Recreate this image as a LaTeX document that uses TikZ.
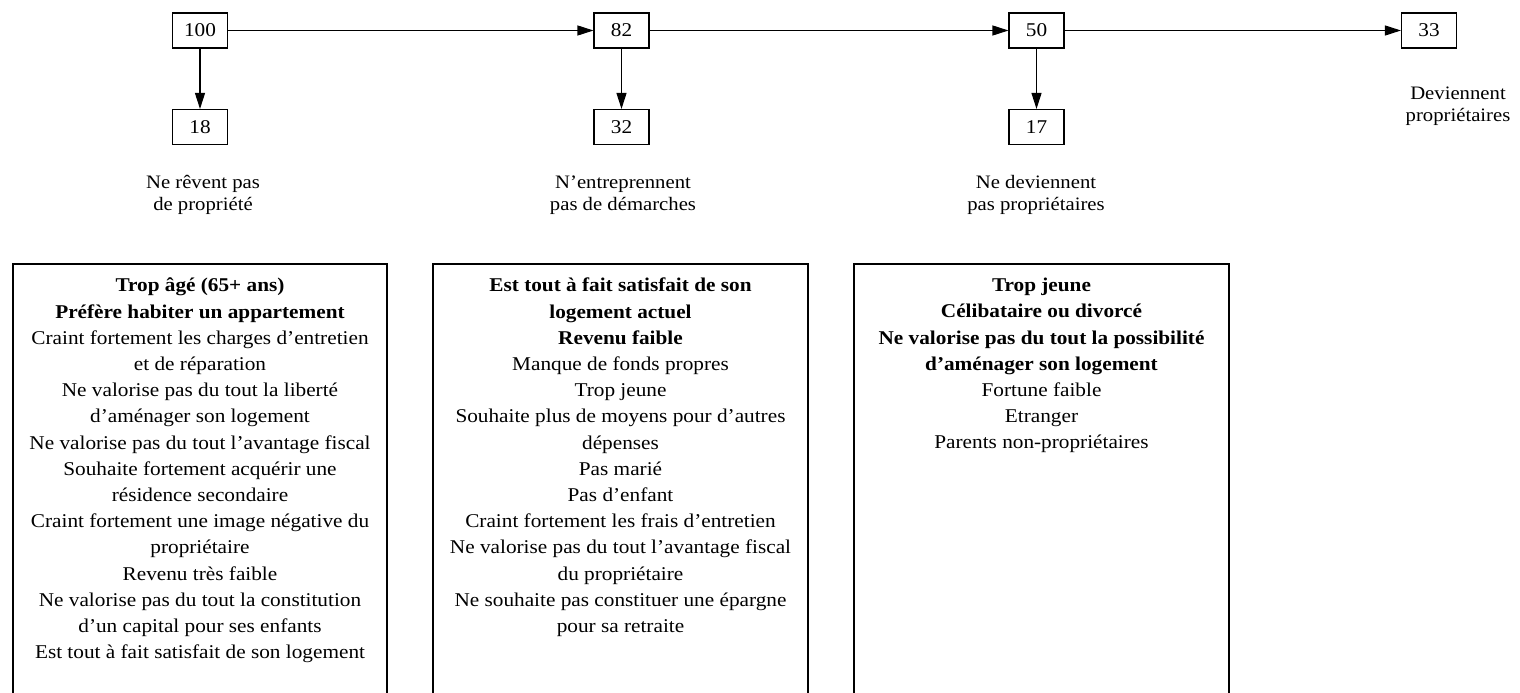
\documentclass[tikz,border=0pt]{standalone}
\usepackage{fontspec}
\setmainfont[FakeStretch=1.09]{Liberation Serif}
\usetikzlibrary{arrows.meta}
\begin{document}
\begin{tikzpicture}[x=1pt,y=-1pt,
 num/.style={draw,line width=1.1pt,minimum width=55pt,minimum height=35pt,inner sep=0pt,font=\fontsize{19.5}{21}\selectfont},
 lab/.style={align=center,font=\fontsize{19}{21.5}\selectfont,inner sep=0pt},
 arr/.style={line width=1.1pt,-{Triangle[length=16pt,width=10pt]}},
 listbox/.style={draw,line width=1.1pt,inner sep=0pt},
 listtxt/.style={anchor=north,align=center,font=\fontsize{19.5}{26.2}\selectfont,inner sep=0pt}]
\clip (0,0) rectangle (1520,693);
\fill[white] (0,0) rectangle (1520,693);
% top row
\node[num] (n100) at (200,30.5) {100};
\node[num] (n82) at (621.5,30.5) {82};
\node[num] (n50) at (1036.5,30.5) {50};
\node[num] (n33) at (1429,30.5) {33};
\node[num] (n18) at (200,127) {18};
\node[num] (n32) at (621.5,127) {32};
\node[num] (n17) at (1036.5,127) {17};
\draw[arr] (n100) -- (n82);
\draw[arr] (n82) -- (n50);
\draw[arr] (n50) -- (n33);
\draw[arr] (n100) -- (n18);
\draw[arr] (n82) -- (n32);
\draw[arr] (n50) -- (n17);
% labels
\node[lab] (l1) at (203,195) {Ne rêvent pas\\ de propriété};
\node[lab] (l2) at (623,195) {N’entreprennent\\pas de démarches};
\node[lab] (l3) at (1036,195) {Ne deviennent\\pas propriétaires};
\node[lab] (l4) at (1458,106) {Deviennent\\propriétaires};
% list boxes
\draw[listbox] (13,264) rectangle (387,710);
\draw[listbox] (433,264) rectangle (808,710);
\draw[listbox] (854,264) rectangle (1229,710);
\node[listtxt] (t1) at (200,278) {\textbf{Trop âgé (65+ ans)}\\
\textbf{Préfère habiter un appartement}\\
Craint fortement les charges d’entretien\\
et de réparation\\
Ne valorise pas du tout la liberté\\
d’aménager son logement\\
Ne valorise pas du tout l’avantage fiscal\\
Souhaite fortement acquérir une\\
résidence secondaire\\
Craint fortement une image négative du\\
propriétaire\\
Revenu très faible\\
Ne valorise pas du tout la constitution\\
d’un capital pour ses enfants\\
Est tout à fait satisfait de son logement};
\node[listtxt] (t2) at (620.5,278) {\textbf{Est tout à fait satisfait de son}\\
\textbf{logement actuel}\\
\textbf{Revenu faible}\\
Manque de fonds propres\\
Trop jeune\\
Souhaite plus de moyens pour d’autres\\
dépenses\\
Pas marié\\
Pas d’enfant\\
Craint fortement les frais d’entretien\\
Ne valorise pas du tout l’avantage fiscal\\
du propriétaire\\
Ne souhaite pas constituer une épargne\\
pour sa retraite};
\node[listtxt] (t3) at (1041.5,278) {\textbf{Trop jeune}\\
\textbf{Célibataire ou divorcé}\\
\textbf{Ne valorise pas du tout la possibilité}\\
\textbf{d’aménager son logement}\\
Fortune faible\\
Etranger\\
Parents non-propriétaires};
\end{tikzpicture}
\end{document}
